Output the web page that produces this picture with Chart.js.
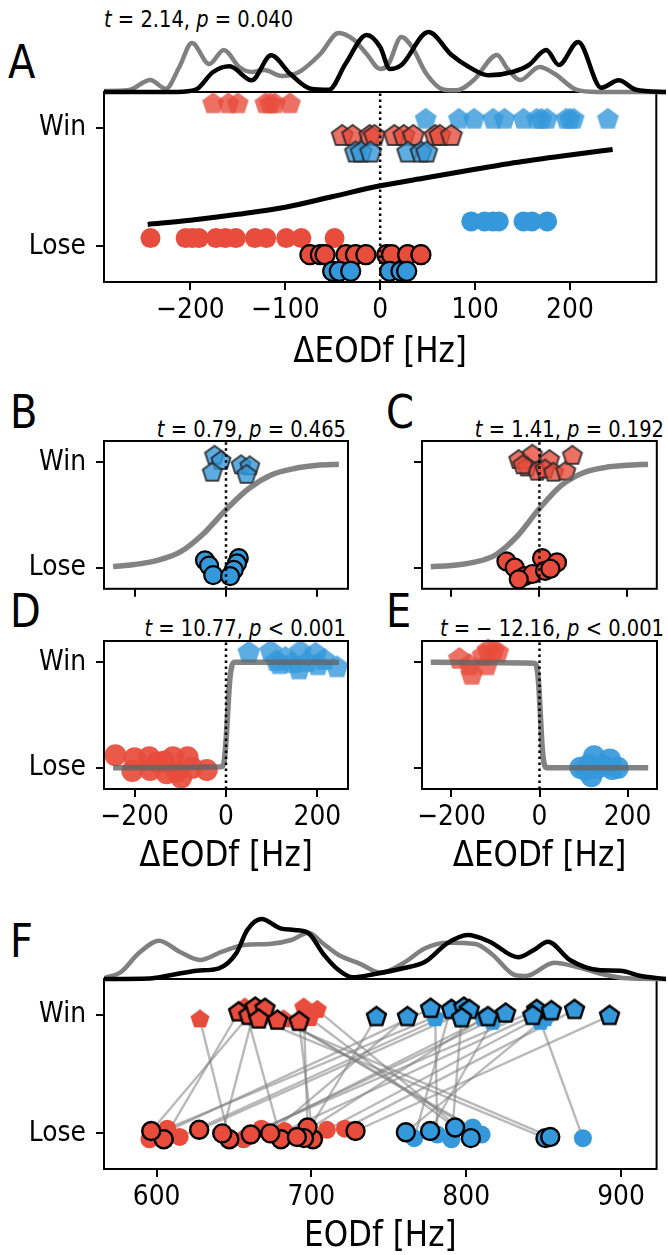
<!DOCTYPE html>
<html>
<head>
<meta charset="utf-8">
<script src="https://cdn.jsdelivr.net/npm/chart.js@4.4.1/dist/chart.umd.min.js"></script>
<style>
html, body { margin: 0; padding: 0; background: #fff; }
body { width: 668px; height: 1255px; position: relative; overflow: hidden; font-family: 'DejaVu Sans', sans-serif; color: #000; }
canvas { position: absolute; }
.letter { position: absolute; font-size: 40px; line-height: 1; transform: scaleY(1.15); }
.stat { position: absolute; font-size: 19.5px; line-height: 1; white-space: nowrap; transform: scaleY(1.15); }
</style>
</head>
<body>
<div class="letter" style="left:8px;top:42px">A</div>
<div class="letter" style="left:10px;top:392px">B</div>
<div class="letter" style="left:386px;top:392px">C</div>
<div class="letter" style="left:10px;top:591px">D</div>
<div class="letter" style="left:386px;top:591px">E</div>
<div class="letter" style="left:10px;top:921px">F</div>
<div class="stat" style="left:104px;top:10px"><i>t</i> = 2.14, <i>p</i> = 0.040</div>
<div class="stat" style="right:322px;top:420px"><i>t</i> = 0.79, <i>p</i> = 0.465</div>
<div class="stat" style="right:4px;top:420px"><i>t</i> = 1.41, <i>p</i> = 0.192</div>
<div class="stat" style="right:322px;top:619px"><i>t</i> = 10.77, <i>p</i> &lt; 0.001</div>
<div class="stat" style="right:4px;top:619px"><i>t</i> = − 12.16, <i>p</i> &lt; 0.001</div>
<script>
// ---- data ----
const outcomeLabels = ['Lose', 'Win'];
const dTicks = [-200, -100, 0, 100, 200];
const dTicksSmall = [-200, 0, 200];
const fTicks = [600, 700, 800, 900];

// panel A: ΔEODf [Hz] per group, each group drawn on its own row
const aWinRed = [-176, -160, -150, -121, -116, -111, -95];
const aWinBlue = [48, 83, 99, 119, 131, 151, 165, 170, 176, 196, 200, 204, 240];
const aWinRedSame = [-40, -29, -11, -6, 15, 25, 35, 58, 63, 75];
const aWinBlueSame = [-26, -20, -10, 29, 43, 49];
const aLoseRed = [-242, -205, -198, -191, -173, -163, -152, -132, -120, -99, -83, -48];
const aLoseBlue = [96, 110, 119, 125, 151, 160, 176];
const aLoseRedSame = [-74, -63, -58, -36, -26, -15, 7, 12, 29, 43];
const aLoseBlueSame = [-50, -43, -31, 10, 22, 28];
const aRows = [1.2, 1.07, 0.93, 0.79, 0.07, 0.21, -0.07, -0.21];
const aFitX = [-245, -200, -150, -100, -50, 0, 50, 100, 150, 200, 245];
const aFitY = [0.185, 0.22, 0.27, 0.33, 0.42, 0.51, 0.58, 0.65, 0.715, 0.77, 0.815];
const aKdeGrayX = [-291, -266, -243, -227, -213, -200, -182, -167, -151, -138, -125, -107, -89, -67, -48, -32, -19, -5, 3, 17, 28, 43, 61, 74, 92, 116, 127, 140, 160, 176, 198, 220, 291];
const aKdeGrayY = [1, 1.7, 12, 3.3, 25, 49, 28, 42, 25, 20, 22, 16, 20, 38, 59, 52, 38, 23, 27, 55, 45, 18, 2.3, 1.7, 12, 37, 23, 12, 25, 18, 2.3, 0, 0];
const aKdeBlackX = [-291, -215, -196, -178, -161, -138, -118, -98, -77, -58, -41, -19, -5, 5, 17, 45, 69, 87, 107, 132, 149, 167, 180, 200, 224, 242, 260, 291];
const aKdeBlackY = [0, 0, 2.3, 20, 25.7, 11.7, 36.7, 18, 3.3, 2.3, 28, 57, 45, 23, 27, 60, 37, 25, 16.7, 20, 27, 42, 27, 50, 4.3, 11.7, 2.3, 0];

// panels B-E
const fitX = [-247, -200, -150, -100, -50, 0, 50, 100, 150, 200, 247];
const bFitY = [0.01, 0.03, 0.07, 0.15, 0.32, 0.55, 0.75, 0.88, 0.94, 0.97, 0.98];
const cFitY = [0.01, 0.02, 0.05, 0.12, 0.3, 0.56, 0.78, 0.9, 0.95, 0.97, 0.98];
const bWinX = [-25, -11, -30, 33, 52, 45];
const bWinY = [1.06, 1.01, 0.9, 0.97, 0.96, 0.88];
const bLoseX = [-46, -37, -28, 28, 24, 17, 9];
const bLoseY = [0.07, 0.02, -0.07, 0.09, 0.04, -0.02, -0.08];
const cWinX = [-47, -16, -28, -5, 23, 13, 32, 60, 75, -38];
const cWinY = [1.02, 1.07, 0.95, 0.91, 1.02, 0.93, 0.9, 0.91, 1.06, 0.97];
const cLoseX = [-75, -56, -33, -16, 6, 13, 40, -47, 25];
const cLoseY = [0.06, 0.0, -0.08, -0.06, 0.09, -0.03, 0.05, -0.11, -0.01];
const dLoseX = [-242, -205, -200, -168, -166, -150, -135, -130, -116, -108, -98, -84, -74, -42];
const dLoseY = [0.12, -0.03, 0.09, 0.1, -0.02, 0.05, 0.06, -0.05, 0.1, -0.04, -0.09, 0.1, 0.0, -0.02];
const dWinX = [50, 98, 110, 117, 130, 145, 160, 163, 177, 196, 201, 215, 243];
const dWinY = [1.09, 1.1, 1.01, 0.98, 1.04, 0.99, 0.93, 1.1, 1.0, 1.08, 0.97, 1.02, 0.95];
const dFitX = [-247, -10, -4, 0, 4, 8, 12, 18, 247];
const dFitY = [0, 0.01, 0.06, 0.25, 0.55, 0.82, 0.95, 1.0, 1.0];
const eWinX = [-182, -159, -154, -128, -120, -117, -105, -95];
const eWinY = [1.03, 0.97, 0.88, 1.06, 0.97, 1.11, 1.1, 1.09];
const eLoseX = [93, 105, 112, 118, 124, 130, 145, 160, 165, 178];
const eLoseY = [0.0, -0.02, 0.03, -0.08, 0.11, 0.0, 0.02, 0.08, -0.01, 0.0];
const eFitX = [-247, -12, -6, -2, 2, 6, 10, 16, 247];
const eFitY = [1, 0.99, 0.95, 0.8, 0.5, 0.2, 0.05, 0.0, 0];

// panel F: one entry per contest (winner EODf, loser EODf)
const fWinHz = [628, 653, 659.6, 663.7, 670, 666, 678, 692, 695, 703.8, 699, 682, 657, 742, 762, 777, 790.5, 798.5, 802, 797, 814, 825.5, 845.5, 843, 855, 870, 892.6, 780, 790, 811, 817, 848, 851];
const fWinJit = [0.96, 1.02, 0.99, 1.06, 1.05, 0.96, 0.95, 0.94, 1.06, 1.04, 0.97, 0.96, 1.06, 0.98, 0.98, 1.05, 1.04, 1.06, 1.04, 0.97, 0.98, 1.01, 1.04, 0.99, 1.03, 1.04, 0.99, 0.97, 1.05, 0.97, 0.94, 0.94, 0.97];
const fWinColor = ['r','r','r','r','r','r','r','r','r','r','r','r','r','b','b','b','b','b','b','b','b','b','b','b','b','b','b','b','b','b','b','b','b'];
const fWinEdge = [0,1,1,1,1,1,1,1,0,0,0,0,0,1,1,1,1,1,1,1,1,1,1,1,1,1,1,0,0,0,0,0,0];
const fLoseHz = [647, 604.6, 596.5, 642.4, 810, 851.2, 854.3, 701, 697.5, 803, 792.8, 804.2, 680.3, 695.2, 673.4, 595.4, 606.9, 614.9, 627.5, 790.5, 656.2, 660.8, 667.7, 682.6, 710, 721.6, 728.5, 781.3, 766.4, 690.6, 776.7, 875.4, 761];
const fLoseJit = [-0.05, -0.05, 0.02, 0.0, -0.01, -0.04, -0.03, -0.05, 0.05, -0.04, 0.05, 0.05, -0.05, -0.04, 0.0, -0.05, 0.04, -0.03, 0.03, -0.05, -0.05, -0.01, 0.04, 0.02, 0.03, 0.04, 0.02, -0.01, -0.04, -0.03, 0.02, -0.04, 0.01];
const fLoseColor = ['r','r','r','r','b','b','b','r','r','b','b','b','r','r','r','r','r','r','r','b','r','r','r','r','r','r','r','b','b','r','b','b','b'];
const fLoseEdge = [1,1,1,1,0,1,1,1,1,1,1,0,1,1,1,0,0,0,1,0,0,1,0,0,0,0,1,0,0,1,1,0,1];
const fKdeGrayX = [566, 577, 588, 601, 614, 627, 641, 655, 671, 685, 696, 705, 715, 728, 742, 756, 770, 784, 802, 813, 827, 834, 852, 866, 885, 898, 923];
const fKdeGrayY = [0.7, 7.3, 25.7, 38.3, 27.3, 19, 27.3, 34, 35, 39, 46.3, 35.7, 24, 15.7, 6.3, 15.7, 30.7, 36.3, 35, 24, 4, 3, 16.3, 12.3, 4, 0.7, 0];
const fKdeBlackX = [566, 595, 609, 625, 639, 650, 657, 666, 678, 687, 696, 705, 715, 724, 738, 756, 770, 784, 797, 811, 829, 839, 848, 862, 880, 894, 907, 923];
const fKdeBlackY = [0, 0.5, 4, 8.3, 10.7, 25.7, 49, 60, 50.7, 49, 45.7, 25.7, 9, 1.7, 5, 10.7, 17.3, 35.7, 44, 37.3, 21.7, 29, 37.3, 19, 9, 8.3, 3, 0];

// ---- styling ----
const RED = 'rgb(231,76,60)', BLUE = 'rgb(52,152,219)';
const RED_A = 'rgba(231,76,60,0.8)', BLUE_A = 'rgba(52,152,219,0.8)';
const EDGE_A = 'rgba(40,40,40,0.85)';
const TEXT_STRETCH = 1.15;
Chart.defaults.font.family = 'DejaVu Sans';
Chart.defaults.color = '#000';

const fmt = v => v < 0 ? '\u2212' + Math.abs(v) : String(v);
const row = (xs, y) => xs.map(x => ({ x, y }));
const zip = (xs, ys) => xs.map((x, i) => ({ x, y: ys[i] }));

function pentagon(R, fill, stroke, lw) {
  const s = Math.ceil(2 * R + (lw || 0) + 4);
  const c = document.createElement('canvas');
  c.width = s; c.height = s;
  const g = c.getContext('2d');
  g.translate(s / 2, s / 2);
  g.beginPath();
  for (let k = 0; k < 5; k++) {
    const a = -Math.PI / 2 + k * 2 * Math.PI / 5;
    g.lineTo(R * Math.cos(a), R * Math.sin(a));
  }
  g.closePath();
  g.fillStyle = fill;
  g.fill();
  if (lw) { g.lineWidth = lw; g.strokeStyle = stroke; g.lineJoin = 'miter'; g.stroke(); }
  return c;
}

const circ = (data, r, fill, edge, lw) => ({
  data, pointStyle: 'circle', pointRadius: r, backgroundColor: fill,
  borderColor: edge || fill, borderWidth: edge ? lw : 0, clip: false
});
const pent = (data, img) => ({ data, pointStyle: img, pointRadius: 5, clip: false });
const curve = (data, color, w, extra) => Object.assign({
  type: 'line', data, borderColor: color, borderWidth: w, pointRadius: 0,
  fill: false, clip: false, tension: 0
}, extra || {});
const smooth = { cubicInterpolationMode: 'monotone' };
const dotted = { borderDash: [2.5, 3.5] };

// box round the plot area, above the marks
const frame = {
  id: 'frame',
  afterDatasetsDraw(chart, args, opts) {
    if (opts.off) return;
    const { ctx, chartArea: a } = chart;
    ctx.save();
    ctx.lineWidth = 2;
    ctx.strokeStyle = '#000';
    ctx.strokeRect(a.left, a.top, a.right - a.left, a.bottom - a.top);
    ctx.restore();
  }
};
// the reference glyphs are drawn a bit taller than wide
const tallText = {
  id: 'tallText',
  beforeInit(chart) {
    const ctx = chart.ctx;
    const orig = ctx.fillText;
    ctx.fillText = function (t, x, y, mw) {
      this.save();
      this.translate(x, y);
      this.scale(1, TEXT_STRETCH);
      if (mw === undefined) orig.call(this, t, 0, 0); else orig.call(this, t, 0, 0, mw);
      this.restore();
    };
  }
};

function addCanvas(l, t, w, h) {
  const c = document.createElement('canvas');
  c.width = w; c.height = h;
  c.style.left = l + 'px'; c.style.top = t + 'px';
  c.style.width = w + 'px'; c.style.height = h + 'px';
  document.body.appendChild(c);
  return c;
}

function xAxis(min, max, ticks, labels, title, titlePad) {
  return {
    type: 'linear', min, max,
    afterBuildTicks: ax => { ax.ticks = ticks.map(value => ({ value })); },
    ticks: { autoSkip: false, maxRotation: 0, padding: 6, font: { size: 25 }, color: '#000',
      callback: v => labels ? fmt(v) : '' },
    grid: { drawOnChartArea: false, drawTicks: true, tickLength: 8, lineWidth: 2, color: '#000' },
    border: { display: false },
    title: { display: !!title, text: title || '', font: { size: 31 }, color: '#000',
      padding: { top: 0, bottom: titlePad || 0 } }
  };
}
function yAxis(min, max, labels) {
  return {
    type: 'linear', min, max,
    afterBuildTicks: ax => { ax.ticks = [{ value: 0 }, { value: 1 }]; },
    ticks: { autoSkip: false, padding: 10, font: { size: 25 }, color: '#000',
      callback: v => labels ? outcomeLabels[v] : '' },
    grid: { drawOnChartArea: false, drawTicks: true, tickLength: 8, lineWidth: 2, color: '#000' },
    border: { display: false }
  };
}

// cv = canvas [left, top, width, height], area = plot box [left, top, right, bottom]
function panel(cv, area, xs, ys, datasets) {
  const c = addCanvas(cv[0], cv[1], cv[2], cv[3]);
  const yW = area[0] - cv[0], xH = cv[1] + cv[3] - area[3];
  xs.afterFit = ax => { ax.height = xH; ax.paddingLeft = 0; ax.paddingRight = 0; };
  ys.afterFit = ax => { ax.width = yW; ax.paddingTop = 0; ax.paddingBottom = 0; };
  datasets.forEach((d, i) => { d.order = -i; });
  return new Chart(c, {
    type: 'scatter',
    data: { datasets },
    options: {
      responsive: false, animation: false, devicePixelRatio: 1, events: [],
      layout: { padding: { left: 0, top: area[1] - cv[1], right: cv[0] + cv[2] - area[2], bottom: 0 } },
      plugins: { legend: { display: false }, tooltip: { enabled: false }, frame: { off: false } },
      scales: { x: xs, y: ys }
    },
    plugins: [frame, tallText]
  });
}

function kde(cv, padTop, padBottom, xmin, xmax, datasets) {
  const c = addCanvas(cv[0], cv[1], cv[2], cv[3]);
  datasets.forEach((d, i) => { d.order = -i; });
  return new Chart(c, {
    type: 'scatter',
    data: { datasets },
    options: {
      responsive: false, animation: false, devicePixelRatio: 1, events: [],
      layout: { padding: { left: 0, top: padTop, right: 0, bottom: padBottom } },
      plugins: { legend: { display: false }, tooltip: { enabled: false }, frame: { off: true } },
      scales: {
        x: { type: 'linear', min: xmin, max: xmax, display: false },
        y: { type: 'linear', min: 0, max: 62, display: false }
      }
    },
    plugins: [frame]
  });
}

// ---- panel A ----
const pRedA = pentagon(11.5, RED_A);
const pBlueA = pentagon(11.5, BLUE_A);
const pRedAE = pentagon(11, RED_A, EDGE_A, 2);
const pBlueAE = pentagon(11, BLUE_A, EDGE_A, 2);
panel([0, 80, 668, 300], [104, 92, 666, 282],
  xAxis(-291, 291, dTicks, true, 'ΔEODf [Hz]', 9), yAxis(-0.3, 1.3, true), [
  pent(row(aWinRed, aRows[0]), pRedA),
  pent(row(aWinBlue, aRows[1]), pBlueA),
  pent(row(aWinRedSame, aRows[2]), pRedAE),
  pent(row(aWinBlueSame, aRows[3]), pBlueAE),
  circ(row(aLoseRed, aRows[4]), 10, RED),
  circ(row(aLoseBlue, aRows[5]), 10, BLUE),
  circ(row(aLoseRedSame, aRows[6]), 9.5, RED, '#000', 2.2),
  circ(row(aLoseBlueSame, aRows[7]), 9.5, BLUE, '#000', 2.2),
  curve(zip(aFitX, aFitY), '#000', 5, smooth),
  curve([{ x: 0, y: -0.3 }, { x: 0, y: 1.3 }], '#000', 2.5, dotted)
]);

// ---- panels B-E ----
const pBlueB = pentagon(10, BLUE_A, EDGE_A, 2);
const pRedB = pentagon(10, RED_A, EDGE_A, 2);
const pBlueD = pentagon(12, BLUE_A);
const pRedD = pentagon(12, RED_A);
const SIG = 'rgba(100,100,100,0.8)';
const dots = [{ x: 0, y: -0.2 }, { x: 0, y: 1.2 }];

panel([0, 400, 360, 200], [104, 441, 348, 589],
  xAxis(-267, 267, dTicksSmall, false), yAxis(-0.2, 1.2, true), [
  pent(zip(bWinX, bWinY), pBlueB),
  circ(zip(bLoseX, bLoseY), 9, BLUE, '#000', 2.2),
  curve(zip(fitX, bFitY), SIG, 5.5, smooth),
  curve(dots, '#000', 2.5, dotted)
]);
panel([330, 400, 338, 200], [422, 441, 666, 589],
  xAxis(-267, 267, dTicksSmall, false), yAxis(-0.2, 1.2, false), [
  pent(zip(cWinX, cWinY), pRedB),
  circ(zip(cLoseX, cLoseY), 9, RED, '#000', 2.2),
  curve(zip(fitX, cFitY), SIG, 5.5, smooth),
  curve(dots, '#000', 2.5, dotted)
]);
panel([0, 610, 360, 270], [104, 641, 348, 789],
  xAxis(-267, 267, dTicksSmall, true, 'ΔEODf [Hz]', 5), yAxis(-0.2, 1.2, true), [
  circ(zip(dLoseX, dLoseY), 11, 'rgba(231,76,60,0.92)'),
  pent(zip(dWinX, dWinY), pBlueD),
  curve(zip(dFitX, dFitY), SIG, 5.5, smooth),
  curve(dots, '#000', 2.5, dotted)
]);
panel([330, 610, 338, 270], [422, 641, 666, 789],
  xAxis(-267, 267, dTicksSmall, true, 'ΔEODf [Hz]', 5), yAxis(-0.2, 1.2, false), [
  pent(zip(eWinX, eWinY), pRedD),
  circ(zip(eLoseX, eLoseY), 11, 'rgba(52,152,219,0.92)'),
  curve(zip(eFitX, eFitY), SIG, 5.5, smooth),
  curve(dots, '#000', 2.5, dotted)
]);

// ---- panel F ----
const pick = (hz, jit, col, edge, c, e) => hz
  .map((x, i) => ({ x, y: jit[i], c: col[i], e: edge[i] }))
  .filter(p => p.c === c && p.e === e)
  .map(p => ({ x: p.x, y: p.y }));
const fLines = fWinHz.map((w, i) => curve([{ x: w, y: fWinJit[i] }, { x: fLoseHz[i], y: fLoseJit[i] }],
  'rgba(128,128,128,0.55)', 2.4));
const colorOf = c => c === 'r' ? RED : BLUE;
const fMarks = [];
['r', 'b'].forEach(c => {
  fMarks.push(circ(pick(fLoseHz, fLoseJit, fLoseColor, fLoseEdge, c, 0), 9, colorOf(c)));
  fMarks.push(pent(pick(fWinHz, fWinJit, fWinColor, fWinEdge, c, 0), pentagon(10, colorOf(c))));
});
['r', 'b'].forEach(c => {
  fMarks.push(circ(pick(fLoseHz, fLoseJit, fLoseColor, fLoseEdge, c, 1), 9, colorOf(c), '#000', 2.4));
  fMarks.push(pent(pick(fWinHz, fWinJit, fWinColor, fWinEdge, c, 1), pentagon(10, colorOf(c), '#000', 2.4)));
});
panel([0, 960, 668, 295], [104, 979, 666, 1169],
  xAxis(566, 923, fTicks, true, 'EODf [Hz]', 0), yAxis(-0.3, 1.3, true),
  fLines.concat(fMarks));

// ---- marginal densities ----
kde([104, 15, 562, 81], 15, 4, -291, 291, [
  curve(zip(aKdeGrayX, aKdeGrayY), 'rgb(128,128,128)', 4.5, smooth),
  curve(zip(aKdeBlackX, aKdeBlackY), '#000', 4.5, smooth)
]);
kde([104, 905, 562, 78], 12, 4, 566, 923, [
  curve(zip(fKdeGrayX, fKdeGrayY), 'rgb(128,128,128)', 4.5, smooth),
  curve(zip(fKdeBlackX, fKdeBlackY), '#000', 4.5, smooth)
]);
</script>
</body>
</html>
